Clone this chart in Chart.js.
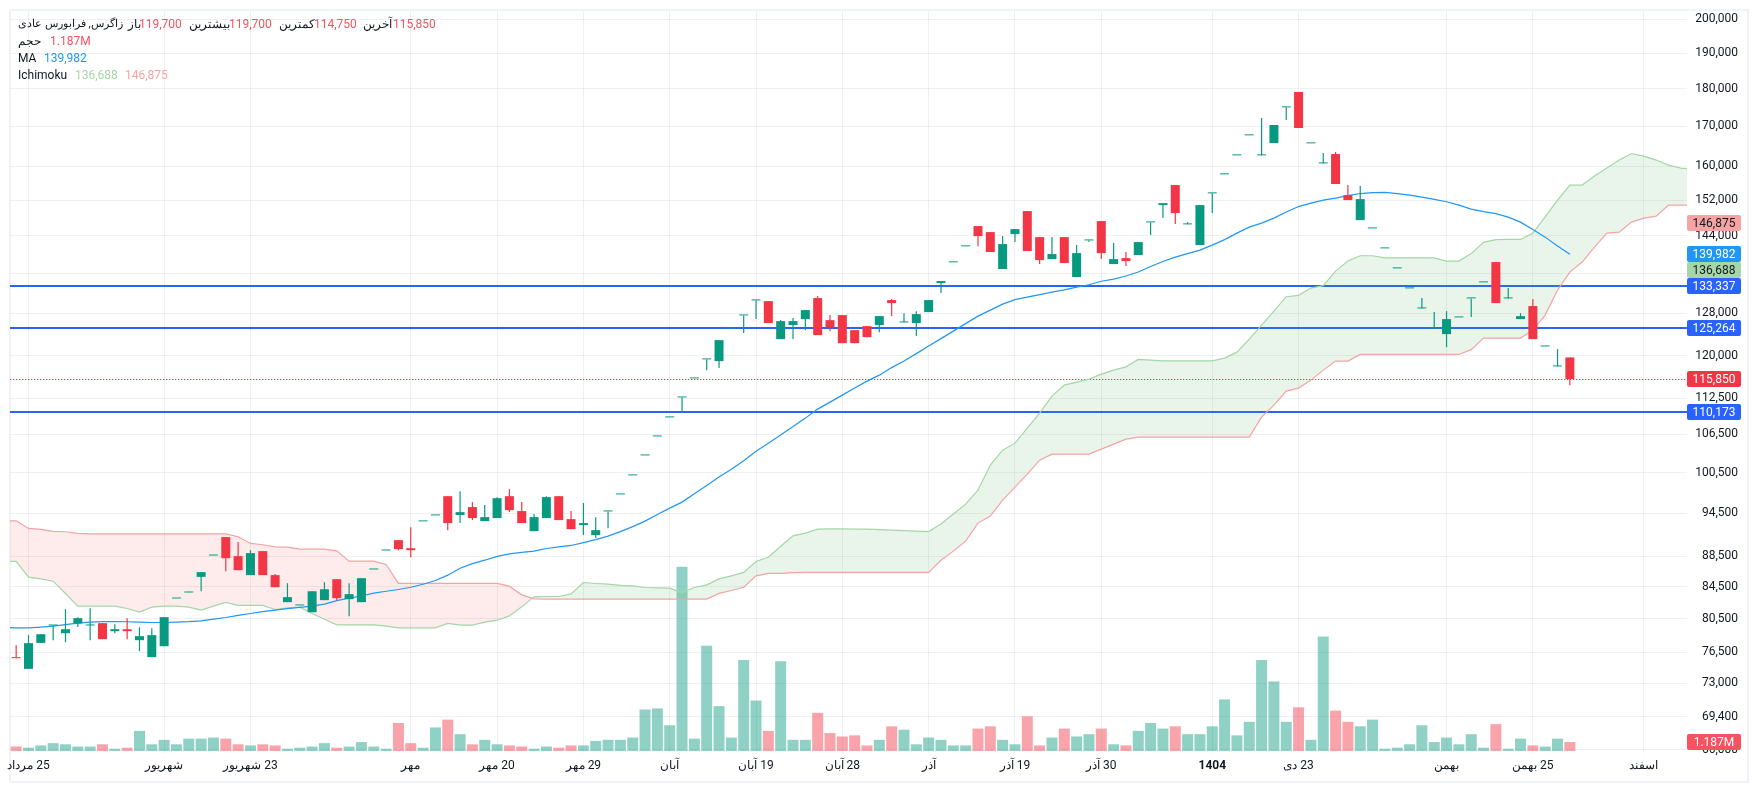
<!DOCTYPE html>
<html lang="fa">
<head>
<meta charset="UTF-8">
<title>زاگرس</title>
<script src="https://cdn.jsdelivr.net/npm/chart.js"></script>
<style>
  html, body { margin: 0; background: #fff; overflow: hidden; }
  body { width: 1757px; height: 790px; position: relative; font-family: Roboto, sans-serif; font-size: 12px; color: #131722; }
  canvas { position: absolute; left: 0; top: 0; direction: rtl; }
  #frame { position: absolute; left: 9px; top: 9px; width: 1736px; height: 770px; border: 2px solid #f0f3fa; pointer-events: none; }
  .lg { position: absolute; white-space: nowrap; line-height: 14px; }
  .red { color: #f7525f; } .blue { color: #2196f3; } .green { color: #a5d6a7; } .pink { color: #f5a3a3; }
</style>
</head>
<body>
<div id="frame"></div>
<canvas id="chart" width="1757" height="790"></canvas>
<span class="lg" dir="rtl" style="left:18px;top:17px;font-size:11.3px">زاگرس, فرابورس عادی</span>
<span class="lg" style="left:128px;top:17px">باز</span>
<span class="lg red" style="left:139px;top:17px">119,700</span>
<span class="lg" style="left:189px;top:17px">بیشترین</span>
<span class="lg red" style="left:229px;top:17px">119,700</span>
<span class="lg" style="left:279px;top:17px">کمترین</span>
<span class="lg red" style="left:314px;top:17px">114,750</span>
<span class="lg" style="left:363px;top:17px">آخرین</span>
<span class="lg red" style="left:393px;top:17px">115,850</span>
<span class="lg" style="left:18px;top:34px">حجم</span>
<span class="lg red" style="left:50px;top:34px">1.187M</span>
<span class="lg" style="left:18px;top:51px">MA</span>
<span class="lg blue" style="left:44px;top:51px">139,982</span>
<span class="lg" style="left:18px;top:68px">Ichimoku</span>
<span class="lg green" style="left:75px;top:68px">136,688</span>
<span class="lg pink" style="left:125px;top:68px">146,875</span>
<script>
const opens = [
  75950,74610,77610,79690,78760,79930,79690,79970,79000,79240,
  77930,75950,77220,83020,83780,85790,88620,91130,88530,86020,
  89210,86020,82560,82150,81310,82810,85490,82940,82560,86760,
  89300,90710,89610,93330,94180,96970,94230,95380,93370,93800,
  96970,94800,91960,93800,96970,93650,92810,91410,94750,97230,
  100080,103160,106180,109290,112650,115950,119350,119040,125100,127590,
  130530,130390,123080,125730,126880,130990,126680,127650,124770,125530,
  125730,130590,126240,126110,128230,134010,138290,141690,146120,144790,
  136890,144350,149480,143690,138980,143690,135240,142970,147230,137930,
  139190,139830,146940,150850,155510,146500,141960,153560,158060,162680,
  167700,162680,165740,174980,179100,165670,160710,163000,153160,147450,
  145610,141250,137030,132930,128950,125100,124020,127200,130930,134150,
  138350,130930,126880,129410,121720,118080,119700];
const closes = [
  75830,77580,78640,79690,79240,80580,79690,78050,79240,79000,
  78410,78530,80700,83020,83780,86410,88620,88260,86670,88940,
  86020,84460,83190,82150,83940,84200,83060,83570,85620,86760,
  89300,89480,89340,93330,94180,93090,94650,93800,93940,96680,
  94940,93090,93940,96830,93510,92240,93090,92100,94750,97230,
  100080,103160,106180,109290,112650,115950,119350,122890,125100,127590,
  130530,126110,126490,126490,128620,123830,125340,122330,122330,123450,
  127450,130000,126240,127840,130590,134420,138290,141690,143920,140470,
  142180,145450,140680,138770,140040,138140,140250,142970,140250,138980,
  138560,142610,146940,151300,149030,146500,150850,153560,158060,162680,
  167700,162680,170350,174980,169570,165670,160710,155750,152000,152230,
  145610,141250,137030,132930,128950,125100,126880,127200,130930,134150,
  130000,130930,127450,123080,121720,118080,115850];
const highs = [
  77340,78530,78640,79690,81680,80700,81810,79970,79850,80580,
  79480,79360,80700,83020,83780,86410,88620,91130,90440,89340,
  89210,86150,84970,82150,83940,85100,85490,84970,85620,86760,
  89300,90710,92520,93330,94180,96970,97710,96100,95670,96830,
  98010,96100,94370,96970,96970,94800,95960,93930,94750,97230,
  100080,103160,106180,109290,112650,115950,119350,122890,125100,127590,
  130530,130390,126680,127070,128620,131390,127650,127650,124770,125530,
  127450,130790,128030,128420,130590,134420,138290,141690,146120,144790,
  143920,145450,149480,143690,143690,143690,141960,142970,147230,142390,
  140470,142610,146940,151300,155510,147000,150850,153560,158060,162680,
  167700,172160,170350,174980,179100,165670,163240,163500,155510,155280,
  145610,141250,137030,132930,130990,128230,128420,127200,130930,134150,
  138350,133000,128030,130790,121720,121220,119700];
const lows = [
  75830,74610,77610,77930,77690,79520,77930,78050,78760,78050,
  76640,75950,77220,83020,83780,83940,88620,86540,86670,86020,
  86020,84460,82560,82150,81310,82810,82810,80820,82560,86760,
  89300,89340,88390,93330,94180,92100,93090,93510,93370,93800,
  94650,93090,91960,93800,93510,92240,91410,90990,92380,97230,
  100080,103160,106180,109290,110170,115950,117420,117780,125100,124210,
  126880,126110,123080,123080,124770,123830,124580,122330,122330,123450,
  124390,127450,126240,123640,128230,131990,138290,141690,141690,140470,
  136890,142610,140680,137930,138980,138140,135240,142610,138980,137930,
  137520,139830,144130,147900,146560,146500,141960,149030,158060,162680,
  167700,162680,165740,171640,169570,165670,160710,155750,152000,147450,
  145610,141250,137030,132930,128950,125100,121590,127200,127260,134150,
  130000,130930,126880,123080,121720,118080,114750];
// volume, millions
const volumes = [
  .6,.44,.74,1.04,.89,.59,.59,.89,.3,.44,
  2.66,.89,1.48,.89,1.63,1.63,1.78,1.63,.89,.74,
  .89,.74,.3,.44,.59,1.04,.44,.59,1.18,.59,
  .3,3.7,1.04,.44,3.11,4.14,2.22,.89,1.48,.89,
  .74,.59,.3,.59,.44,.74,.74,1.33,1.48,1.48,
  1.78,5.48,5.62,3.4,24.3,1.63,13.9,5.92,1.78,12,
  6.66,2.66,11.84,1.48,1.48,5.03,2.37,1.92,2.07,.74,
  1.48,3.26,2.81,.89,1.78,1.48,.74,.74,2.96,3.26,
  1.48,.89,4.59,.74,1.78,2.96,1.92,2.22,2.96,.89,
  .74,2.66,3.7,2.96,3.26,2.22,2.22,3.26,6.81,2.07,
  3.85,12,9.18,3.85,5.77,1.48,15.1,5.33,3.85,3.26,
  4.14,.3,.44,.89,3.4,1.18,1.78,.89,2.22,.44,
  3.55,.3,1.63,.74,.59,1.63,1.187];
// MA and cloud start one bar before the first candle, the cloud runs one past the right edge
const maValues = [79450,
  79390,79390,79480,79600,79785,79970,80090,80150,80170,80140,
  80090,80050,80050,80090,80150,80245,80450,80660,80910,81150,
  81375,81560,81750,81910,82060,82310,82750,83060,83340,83690,
  83940,84160,84450,84840,85320,86015,86930,87530,87990,88500,
  88830,89030,89205,89570,89775,89980,90370,90780,91265,91890,
  92590,93370,94300,95230,96100,97320,98540,99820,101030,102340,
  103830,105090,106390,107780,109170,110670,111850,113050,114260,115475,
  116530,117870,119040,120400,121780,123170,124580,126010,127450,128620,
  129800,130690,131190,131690,132190,132650,133200,133670,134380,134830,
  135450,136270,137410,138460,139400,140140,140890,141960,143150,144570,
  145890,146780,147900,149260,150510,151310,152000,152470,153050,153520,
  153750,153800,153520,153160,152700,152160,151610,150850,149940,149370,
  148920,148130,147000,145380,143690,141750,139982];
const spanA = [87820,
  87820,85760,85540,85230,83655,82060,82060,82060,82060,81770,
  81315,81935,82060,82060,81935,81560,82060,82520,82150,82150,
  82150,81645,81850,81935,81155,80450,79760,79760,79760,79760,
  79600,79395,79395,79395,79395,79930,79725,79725,80090,80330,
  80860,81975,83225,83275,83275,83600,85060,84935,84845,84680,
  84625,84420,84370,84330,83730,84420,84755,85530,85920,86370,
  87820,88390,89880,91310,91680,92240,92280,92280,92240,92240,
  92170,92100,92030,91960,91890,92950,94370,95810,97860,101650,
  103990,105100,107530,110000,112880,114780,115300,115825,116710,117420,
  118010,119350,119220,119090,119090,119090,119090,119090,119580,120670,
  123080,125720,128420,131260,131540,133000,133490,136470,138560,139680,
  139680,139250,139250,139250,139250,139250,138560,138560,140140,142540,
  143150,143190,143190,144570,148190,152000,155510,155510,157650,159570,
  161520,163130,162500,161520,160300,159570,159300];
const spanB = [93410,
  93410,92340,92200,91920,91870,91640,91590,91590,91590,91590,
  91590,91590,91590,91590,91590,91590,91590,91590,91170,90260,
  90080,89800,89750,89480,89480,89480,89250,87860,87860,87860,
  87420,84940,84940,84940,84940,84940,84940,84940,84940,84940,
  84590,83480,82980,82940,82940,82940,82940,82940,82940,82940,
  82940,82940,82940,82940,82940,82940,82940,83660,84030,84450,
  85920,86240,86240,86350,86370,86370,86370,86370,86370,86370,
  86370,86370,86370,86370,86370,87990,89210,90570,93090,94080,
  96390,98300,100280,102420,103360,103360,103360,103360,104150,104940,
  105740,106060,106060,106060,106060,106060,106060,106060,106060,106060,
  106060,109330,111340,113740,114260,115650,117420,119040,119040,120250,
  120250,120250,120250,120250,120250,120250,120250,120250,121130,123270,
  123270,123270,123270,124770,127650,132590,136270,138350,141530,144570,
  144790,147000,147900,148350,150850,150850,150850];
const priceTicks = [200000,190000,180000,170000,160000,152000,144000,136000,128000,120000,112500,106500,100500,94500,88500,84500,80500,76500,73000,69400,66000];
const timeIndex = [1,12,19,32,39,46,53,60,67,74,81,88,97,104,116,123,132];
const timeLabels = ['25 مرداد','شهریور','23 شهریور','مهر','20 مهر','29 مهر','آبان','19 آبان','28 آبان','آذر','19 آذر','30 آذر','1404','23 دی','بهمن','25 بهمن','اسفند'];
const supportLevels = [133337,125264,110173];
const lastClose = 115850;
const maLast = 139982;
const spanALast = 136688;
const spanBLast = 146875;
const volumeLast = 1.187;

const UP = '#089981', DOWN = '#f23645';
const FONT = 'Roboto, sans-serif';
const GRID = 'rgba(42,46,57,0.07)';
const isDown = i => closes[i] < opens[i];
const candleColor = opens.map((_, i) => isDown(i) ? DOWN : UP);
const fmt = v => v.toLocaleString('en-US');
const noPad = axis => { axis.paddingTop = axis.paddingBottom = axis.paddingLeft = axis.paddingRight = 0; };

function priceBox(ctx, y, text, bg, fg) {
  ctx.fillStyle = bg;
  ctx.beginPath();
  ctx.roundRect(1687, Math.round(y) - 8, 54, 16, 2);
  ctx.fill();
  ctx.fillStyle = fg;
  ctx.fillText(text, 1714, Math.round(y) + 0.5);
}

const levelsPlugin = {
  id: 'levels',
  beforeDatasetsDraw(chart) {
    const { ctx, chartArea: a, scales: { y } } = chart;
    ctx.save();
    ctx.strokeStyle = DOWN;
    ctx.lineWidth = 1;
    ctx.setLineDash([1.3, 1.7]);
    const ly = Math.round(y.getPixelForValue(lastClose)) + 0.5;
    ctx.beginPath(); ctx.moveTo(a.left, ly); ctx.lineTo(a.right, ly); ctx.stroke();
    ctx.setLineDash([]);
    ctx.strokeStyle = '#2962ff';
    ctx.lineWidth = 2;
    supportLevels.forEach(v => {
      const py = Math.round(y.getPixelForValue(v));
      ctx.beginPath(); ctx.moveTo(a.left, py); ctx.lineTo(a.right, py); ctx.stroke();
    });
    ctx.restore();
  },
  afterDraw(chart) {
    const { ctx, scales: { y, v } } = chart;
    ctx.save();
    ctx.font = '12px ' + FONT;
    ctx.textAlign = 'center';
    ctx.textBaseline = 'middle';
    priceBox(ctx, y.getPixelForValue(spanBLast), fmt(spanBLast), '#f5a3a3', '#131722');
    priceBox(ctx, y.getPixelForValue(maLast), fmt(maLast), '#2196f3', '#fff');
    priceBox(ctx, y.getPixelForValue(spanALast), fmt(spanALast), '#a5d6a7', '#131722');
    supportLevels.forEach(p => priceBox(ctx, y.getPixelForValue(p), fmt(p), '#2962ff', '#fff'));
    priceBox(ctx, y.getPixelForValue(lastClose), fmt(lastClose), DOWN, '#fff');
    priceBox(ctx, v.getPixelForValue(volumeLast), volumeLast + 'M', '#f7525f', '#fff');
    ctx.restore();
  }
};

new Chart(document.getElementById('chart'), {
  type: 'bar',
  data: {
    datasets: [
      { label: 'حجم', yAxisID: 'v', data: volumes.map((y, i) => ({ x: i, y })), grouped: false, barThickness: 11, inflateAmount: 0, order: 6,
        backgroundColor: opens.map((_, i) => isDown(i) ? 'rgba(242,54,69,0.45)' : 'rgba(8,153,129,0.45)') },
      { type: 'line', label: 'Ichimoku A', yAxisID: 'y', data: spanA.map((y, i) => ({ x: i - 1, y })), borderColor: '#a5d6a7', borderWidth: 1.2, pointRadius: 0, order: 5,
        fill: { target: '+1', above: 'rgba(76,175,80,0.12)', below: 'rgba(242,54,69,0.1)' } },
      { type: 'line', label: 'Ichimoku B', yAxisID: 'y', data: spanB.map((y, i) => ({ x: i - 1, y })), borderColor: '#f5a3a3', borderWidth: 1.2, pointRadius: 0, order: 4 },
      { type: 'line', label: 'MA', yAxisID: 'y', data: maValues.map((y, i) => ({ x: i - 1, y })), borderColor: '#2196f3', borderWidth: 1.2, pointRadius: 0, order: 3 },
      { label: 'wick', yAxisID: 'y', data: lows.map((l, i) => ({ x: i, y: [l, highs[i]] })), grouped: false, barThickness: 1.2, inflateAmount: 0, order: 2, backgroundColor: candleColor },
      { label: 'body', yAxisID: 'y', data: opens.map((o, i) => ({ x: i, y: [o, closes[i]] })), grouped: false, barThickness: 9, inflateAmount: 0, minBarLength: 1, order: 1, backgroundColor: candleColor }
    ]
  },
  options: {
    responsive: false,
    animation: false,
    devicePixelRatio: 1,
    layout: { padding: { left: 10, top: 11, right: 19, bottom: 0 } },
    plugins: { legend: { display: false }, tooltip: { enabled: false } },
    scales: {
      x: {
        type: 'linear',
        offset: false,
        min: -0.5,
        max: 135.5,
        afterBuildTicks: axis => { axis.ticks = timeIndex.map(i => ({ value: i })); },
        afterFit: axis => { axis.height = 37; noPad(axis); },
        grid: { offset: false, color: GRID, drawTicks: false },
        border: { display: false },
        ticks: {
          autoSkip: false, maxRotation: 0, minRotation: 0, padding: 6, color: '#131722',
          callback: v => timeLabels[timeIndex.indexOf(v)],
          font: ctx => ({ family: FONT, size: 12, weight: ctx.tick && ctx.tick.value === 97 ? 'bold' : 'normal' })
        }
      },
      y: {
        type: 'logarithmic',
        position: 'right',
        min: 65664,
        max: 202536,
        bounds: 'data',
        afterBuildTicks: axis => { axis.ticks = priceTicks.map(v => ({ value: v })); },
        afterFit: axis => { axis.width = 51; noPad(axis); },
        grid: { color: GRID, drawTicks: false },
        border: { display: false },
        ticks: { crossAlign: 'far', padding: 0, color: '#131722', font: { family: FONT, size: 12 }, autoSkip: false, callback: fmt }
      },
      v: { type: 'linear', display: false, position: 'right', min: -0.26, max: 97.6 }
    }
  },
  plugins: [levelsPlugin]
});
</script>
</body>
</html>
